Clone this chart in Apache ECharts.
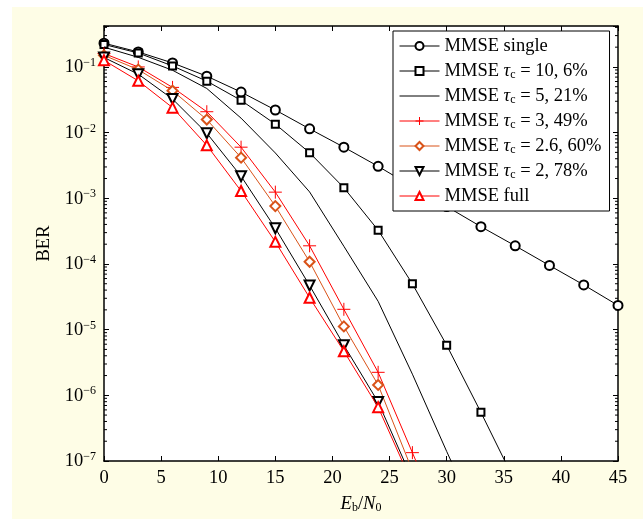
<!DOCTYPE html>
<html><head><meta charset="utf-8">
<script src="https://cdn.jsdelivr.net/npm/echarts@6/dist/echarts.min.js"></script>
<style>html,body{margin:0;padding:0;background:#fff}#c{width:643px;height:519px}</style>
</head><body><div id="c"></div>
<script>
const snr = [0, 3, 6, 9, 12, 15, 18, 21, 24, 27, 30, 33, 36, 39, 42, 45];
const names = ['MMSE single', 'MMSE τc = 10, 6%', 'MMSE τc = 5, 21%', 'MMSE τc = 3, 49%', 'MMSE τc = 2.6, 60%', 'MMSE τc = 2, 78%', 'MMSE full'];
const berSingle = [0.23, 0.169, 0.115, 0.0723, 0.0414, 0.0221, 0.0114, 6.0e-3, 3.07e-3, 1.5e-3, 7.5e-4, 3.7e-4, 1.89e-4, 9.5e-5, 4.8e-5, 2.34e-5];
const berTau10 = [0.22, 0.163, 0.1035, 0.0608, 0.031, 0.01346, 4.94e-3, 1.45e-3, 3.27e-4, 4.98e-5, 5.8e-6, 5.5e-7, 4.8e-8];
const berTau5 = [0.2, 0.14, 0.089, 0.047, 0.0166, 4.9e-3, 1.25e-3, 1.86e-4, 2.7e-5, 2.1e-6, 1.4e-7, 1e-8];
const berTau3 = [0.16, 0.1, 0.0488, 0.0208, 6.0e-3, 1.24e-3, 1.89e-4, 2.04e-5, 2.24e-6, 1.34e-7, 8e-9];
const berTau26 = [0.15, 0.091, 0.0434, 0.0158, 4.16e-3, 7.6e-4, 1.08e-4, 1.12e-5, 1.44e-6, 7.1e-8];
const berTau2 = [0.139, 0.0776, 0.0325, 9.8e-3, 2.17e-3, 3.5e-4, 4.7e-5, 5.8e-6, 7.9e-7, 5.2e-8];
const berFull = [0.126, 0.0614, 0.024, 6.4e-3, 1.29e-3, 2.17e-4, 3.06e-5, 4.7e-6, 6.6e-7, 4.5e-8];
const xTicks = [0, 5, 10, 15, 20, 25, 30, 35, 40, 45];
const yDecades = [-7, -6, -5, -4, -3, -2, -1];

const FONT = 'Liberation Serif, Times New Roman, serif';
const FS = 18.5, FSS = 12;
const Y_MIN = 1e-7, Y_MAX = 0.42;
const minorVals = [];
yDecades.forEach(e => { for (let k = 2; k <= 9; k++) { const v = k * Math.pow(10, e); if (v < Y_MAX) minorVals.push([0, v]); } });

function pairs(arr) { return arr.map((v, i) => [snr[i], v]); }

function yLabel(v) {
  const l = Math.log10(v), e = Math.round(l);
  if (Math.abs(l - e) > 0.01 || e > -1) return '';
  return '{b|10}{sup|−' + Math.abs(e) + '}';
}
function legendFmt(name) {
  return name.replace('τc', '{it|τ}{sub|c}');
}
const specs = [
  { d: berSingle, color: '#000', symbol: 'emptyCircle', size: 9 },
  { d: berTau10, color: '#000', symbol: 'emptyRect', size: 7 },
  { d: berTau5, color: '#000', symbol: 'emptyCircle', size: 1, noSym: true },
  { d: berTau3, color: '#ff0000', symbol: 'path://M0,-1L0,1M-1,0L1,0', size: 13, plus: true },
  { d: berTau26, color: '#d95319', symbol: 'emptyDiamond', size: 10 },
  { d: berTau2, color: '#000', symbol: 'emptyTriangle', size: 10, rot: 180 },
  { d: berFull, color: '#ff0000', symbol: 'emptyTriangle', size: 10 }
];
const series = specs.map((s, i) => ({
  name: names[i], type: 'line', data: pairs(s.d), xAxisIndex: 0, yAxisIndex: 0,
  symbol: s.symbol, symbolSize: s.size, symbolRotate: s.rot || 0, showSymbol: !s.noSym,
  lineStyle: { color: s.color, width: 1 },
  itemStyle: s.plus ? { color: 'none', borderColor: s.color, borderWidth: 1 } : { color: s.color, borderColor: s.color, borderWidth: 1 },
  clip: true, animation: false, z: 3 + i
}));
series.push({
  type: 'custom', data: minorVals, xAxisIndex: 0, yAxisIndex: 0, silent: true, animation: false, z: 20,
  renderItem: function (params, api) {
    const p = api.coord([0, api.value(1)]);
    const q = api.coord([45, api.value(1)]);
    return { type: 'group', children: [
      { type: 'line', shape: { x1: p[0], y1: p[1], x2: p[0] + 3, y2: p[1] }, style: { stroke: '#000', lineWidth: 1 } },
      { type: 'line', shape: { x1: q[0] - 3, y1: q[1], x2: q[0], y2: q[1] }, style: { stroke: '#000', lineWidth: 1 } }
    ] };
  }
});
const legendData = names.map((n, i) => specs[i].noSym ? { name: n, itemStyle: { opacity: 0 } } : { name: n });

const axisLineStyle = { show: true, onZero: false, lineStyle: { color: '#000', width: 1.5 } };
const chart = echarts.init(document.getElementById('c'), null, { renderer: 'canvas' });
chart.setOption({
  backgroundColor: '#fff',
  animation: false,
  graphic: [{ type: 'rect', shape: { x: 12, y: 7, width: 631, height: 512 }, style: { fill: '#fefde6' }, z: -10, silent: true }],
  grid: { left: 104, right: 25, top: 26, bottom: 56, show: true, backgroundColor: '#fff', borderWidth: 0 },
  legend: {
    data: legendData, orient: 'vertical', left: 393, top: 31, itemWidth: 40, itemHeight: 10, itemGap: 5,
    padding: [5, 8, 5, 6], backgroundColor: '#fff', borderColor: '#000', borderWidth: 1,
    formatter: legendFmt, selectedMode: false,
    lineStyle: { width: 1 }, itemStyle: { borderWidth: 1 },
    textStyle: { fontFamily: FONT, fontSize: FS, color: '#000', lineHeight: 20,
      rich: { it: { fontFamily: FONT, fontSize: FS, fontStyle: 'italic', color: '#000' },
              sub: { fontFamily: FONT, fontSize: FSS, verticalAlign: 'bottom', lineHeight: 11, color: '#000' } } }
  },
  xAxis: [
    { type: 'value', min: 0, max: 45, interval: 5, position: 'bottom',
      axisLine: axisLineStyle, axisTick: { inside: true, length: 5, lineStyle: { color: '#000' } },
      splitLine: { show: false },
      axisLabel: { fontFamily: FONT, fontSize: FS, color: '#000', margin: 8 },
      name: '{i|E}{s|b}{n|/}{i|N}{s|0}', nameLocation: 'middle', nameGap: 34,
      nameTextStyle: { fontFamily: FONT, fontSize: FS, color: '#000',
        rich: { i: { fontFamily: FONT, fontSize: FS, fontStyle: 'italic', color: '#000' },
                n: { fontFamily: FONT, fontSize: FS, color: '#000' },
                s: { fontFamily: FONT, fontSize: FSS, verticalAlign: 'bottom', lineHeight: 11, color: '#000' } } } },
    { type: 'value', min: 0, max: 45, interval: 5, position: 'top',
      axisLine: axisLineStyle, axisTick: { inside: true, length: 5, lineStyle: { color: '#000' } },
      splitLine: { show: false }, axisLabel: { show: false } }
  ],
  yAxis: [
    { type: 'log', logBase: 10, min: Y_MIN, max: Y_MAX, position: 'left',
      axisLine: axisLineStyle, axisTick: { inside: true, length: 5, lineStyle: { color: '#000' } },
      splitLine: { show: false }, minorTick: { show: false },
      axisLabel: { formatter: yLabel, margin: 8, fontFamily: FONT, fontSize: FS, color: '#000',
        rich: { b: { fontFamily: FONT, fontSize: FS, color: '#000', verticalAlign: 'bottom', lineHeight: 20 },
                sup: { fontFamily: FONT, fontSize: FSS, color: '#000', verticalAlign: 'top', lineHeight: 13 } } },
      name: 'BER', nameLocation: 'middle', nameGap: 49, nameRotate: 90,
      nameTextStyle: { fontFamily: FONT, fontSize: FS, color: '#000' } },
    { type: 'log', logBase: 10, min: Y_MIN, max: Y_MAX, position: 'right',
      axisLine: axisLineStyle, axisTick: { inside: true, length: 5, lineStyle: { color: '#000' } },
      splitLine: { show: false }, axisLabel: { show: false } }
  ],
  series: series
});
</script>
</body></html>
